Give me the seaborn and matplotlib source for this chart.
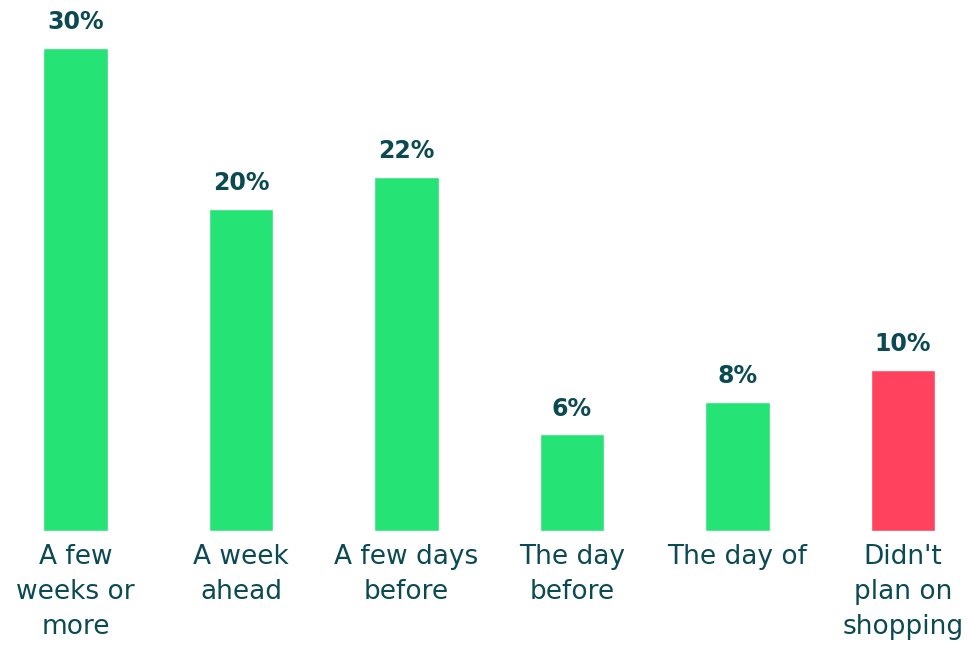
import matplotlib
matplotlib.use("Agg")
import matplotlib.pyplot as plt
import seaborn as sns
import pandas as pd

categories = ["A few\nweeks or\nmore", "A week\nahead", "A few days\nbefore",
              "The day\nbefore", "The day of", "Didn't\nplan on\nshopping"]
values = [30, 20, 22, 6, 8, 10]
bar_colors = ["#26E375", "#26E375", "#26E375", "#26E375", "#26E375", "#FF425E"]
value_labels = ["30%", "20%", "22%", "6%", "8%", "10%"]

TEXT = "#0B4A52"

sns.set_theme(style="white")
plt.rcParams["font.family"] = ["DejaVu Sans"]

df = pd.DataFrame({"category": categories, "value": values})

fig = plt.figure(figsize=(9.67, 6.46), dpi=100)
ax = fig.add_axes([0, 115 / 646, 1, 483 / 646])

sns.barplot(data=df, x="category", y="value", hue="category",
            palette=bar_colors, legend=False, width=0.39, saturation=1,
            ax=ax)

ax.set_ylim(0, 30)
ax.set_xlim(-0.456, 5.387)

for i, (v, lab) in enumerate(zip(values, value_labels)):
    ax.annotate(lab, (i, v), xytext=(0, 10), textcoords="offset points",
                ha="center", va="bottom", fontsize=17, fontweight="bold",
                color=TEXT, clip_on=False)

ax.set_xlabel("")
ax.set_ylabel("")
ax.set_yticks([])
ax.tick_params(axis="x", length=0, pad=9, labelsize=19, colors=TEXT)
for t in ax.get_xticklabels():
    t.set_linespacing(1.46)
for s in ax.spines.values():
    s.set_visible(False)

fig.savefig("out.png", dpi=100)
